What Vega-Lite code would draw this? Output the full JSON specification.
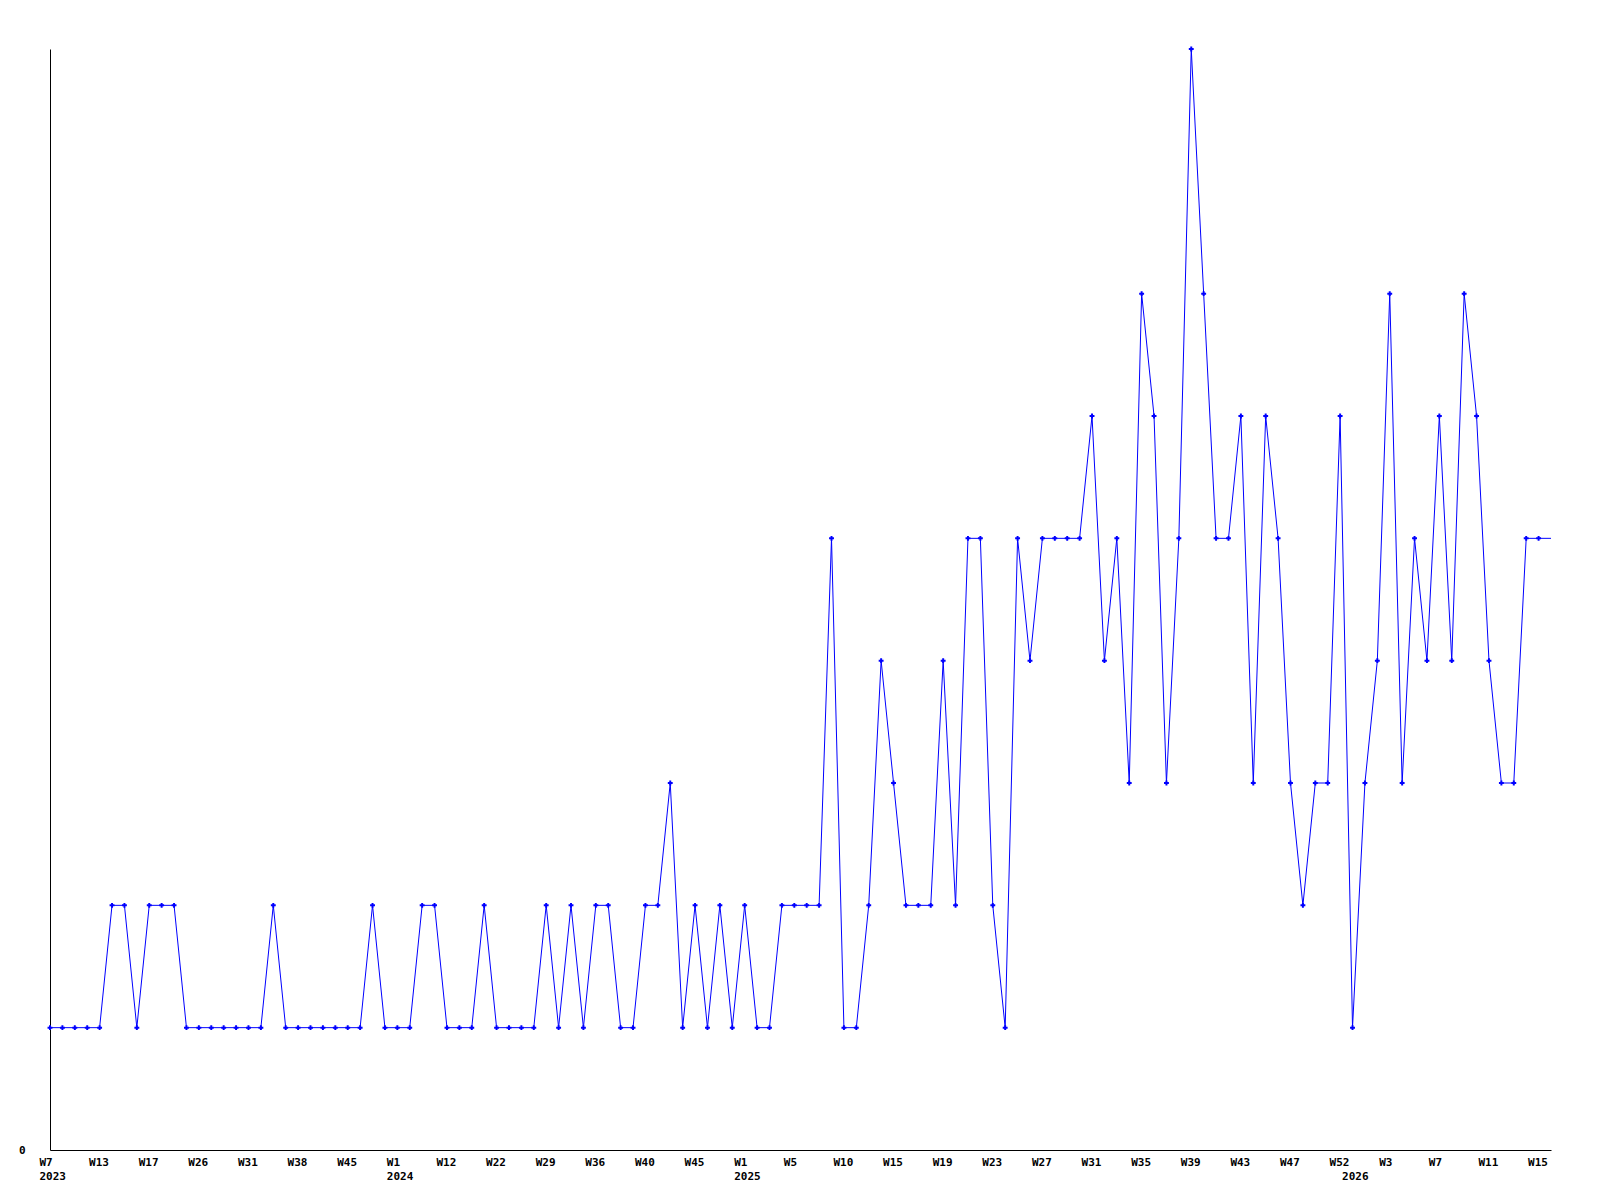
{
  "$schema": "https://vega.github.io/schema/vega-lite/v6.json",
  "width": 1501,
  "height": 1101,
  "autosize": {"type": "none"},
  "padding": {"left": 50, "top": 49, "right": 49, "bottom": 50},
  "background": "white",
  "config": {"view": {"stroke": null}},
  "data": {"values": [
    {"i":0,"key":"2023-W7","v":1},{"i":1,"key":"2023-W8","v":1},{"i":2,"key":"2023-W10","v":1},{"i":3,"key":"2023-W11","v":1},
    {"i":4,"key":"2023-W13","v":1},{"i":5,"key":"2023-W14","v":2},{"i":6,"key":"2023-W15","v":2},{"i":7,"key":"2023-W16","v":1},
    {"i":8,"key":"2023-W17","v":2},{"i":9,"key":"2023-W19","v":2},{"i":10,"key":"2023-W21","v":2},{"i":11,"key":"2023-W24","v":1},
    {"i":12,"key":"2023-W26","v":1},{"i":13,"key":"2023-W27","v":1},{"i":14,"key":"2023-W28","v":1},{"i":15,"key":"2023-W30","v":1},
    {"i":16,"key":"2023-W31","v":1},{"i":17,"key":"2023-W33","v":1},{"i":18,"key":"2023-W35","v":2},{"i":19,"key":"2023-W36","v":1},
    {"i":20,"key":"2023-W38","v":1},{"i":21,"key":"2023-W40","v":1},{"i":22,"key":"2023-W42","v":1},{"i":23,"key":"2023-W44","v":1},
    {"i":24,"key":"2023-W45","v":1},{"i":25,"key":"2023-W47","v":1},{"i":26,"key":"2023-W49","v":2},{"i":27,"key":"2023-W51","v":1},
    {"i":28,"key":"2024-W1","v":1},{"i":29,"key":"2024-W3","v":1},{"i":30,"key":"2024-W6","v":2},{"i":31,"key":"2024-W9","v":2},
    {"i":32,"key":"2024-W12","v":1},{"i":33,"key":"2024-W14","v":1},{"i":34,"key":"2024-W17","v":1},{"i":35,"key":"2024-W20","v":2},
    {"i":36,"key":"2024-W22","v":1},{"i":37,"key":"2024-W24","v":1},{"i":38,"key":"2024-W26","v":1},{"i":39,"key":"2024-W27","v":1},
    {"i":40,"key":"2024-W29","v":2},{"i":41,"key":"2024-W31","v":1},{"i":42,"key":"2024-W33","v":2},{"i":43,"key":"2024-W34","v":1},
    {"i":44,"key":"2024-W36","v":2},{"i":45,"key":"2024-W37","v":2},{"i":46,"key":"2024-W38","v":1},{"i":47,"key":"2024-W39","v":1},
    {"i":48,"key":"2024-W40","v":2},{"i":49,"key":"2024-W41","v":2},{"i":50,"key":"2024-W43","v":3},{"i":51,"key":"2024-W44","v":1},
    {"i":52,"key":"2024-W45","v":2},{"i":53,"key":"2024-W47","v":1},{"i":54,"key":"2024-W49","v":2},{"i":55,"key":"2024-W51","v":1},
    {"i":56,"key":"2025-W1","v":2},{"i":57,"key":"2025-W2","v":1},{"i":58,"key":"2025-W3","v":1},{"i":59,"key":"2025-W4","v":2},
    {"i":60,"key":"2025-W5","v":2},{"i":61,"key":"2025-W6","v":2},{"i":62,"key":"2025-W7","v":2},{"i":63,"key":"2025-W9","v":5},
    {"i":64,"key":"2025-W10","v":1},{"i":65,"key":"2025-W11","v":1},{"i":66,"key":"2025-W12","v":2},{"i":67,"key":"2025-W14","v":4},
    {"i":68,"key":"2025-W15","v":3},{"i":69,"key":"2025-W16","v":2},{"i":70,"key":"2025-W17","v":2},{"i":71,"key":"2025-W18","v":2},
    {"i":72,"key":"2025-W19","v":4},{"i":73,"key":"2025-W20","v":2},{"i":74,"key":"2025-W21","v":5},{"i":75,"key":"2025-W22","v":5},
    {"i":76,"key":"2025-W23","v":2},{"i":77,"key":"2025-W24","v":1},{"i":78,"key":"2025-W25","v":5},{"i":79,"key":"2025-W26","v":4},
    {"i":80,"key":"2025-W27","v":5},{"i":81,"key":"2025-W28","v":5},{"i":82,"key":"2025-W29","v":5},{"i":83,"key":"2025-W30","v":5},
    {"i":84,"key":"2025-W31","v":6},{"i":85,"key":"2025-W32","v":4},{"i":86,"key":"2025-W33","v":5},{"i":87,"key":"2025-W34","v":3},
    {"i":88,"key":"2025-W35","v":7},{"i":89,"key":"2025-W36","v":6},{"i":90,"key":"2025-W37","v":3},{"i":91,"key":"2025-W38","v":5},
    {"i":92,"key":"2025-W39","v":9},{"i":93,"key":"2025-W40","v":7},{"i":94,"key":"2025-W41","v":5},{"i":95,"key":"2025-W42","v":5},
    {"i":96,"key":"2025-W43","v":6},{"i":97,"key":"2025-W44","v":3},{"i":98,"key":"2025-W45","v":6},{"i":99,"key":"2025-W46","v":5},
    {"i":100,"key":"2025-W47","v":3},{"i":101,"key":"2025-W48","v":2},{"i":102,"key":"2025-W49","v":3},{"i":103,"key":"2025-W51","v":3},
    {"i":104,"key":"2025-W52","v":6},{"i":105,"key":"2026-W0","v":1},{"i":106,"key":"2026-W1","v":3},{"i":107,"key":"2026-W2","v":4},
    {"i":108,"key":"2026-W3","v":7},{"i":109,"key":"2026-W4","v":3},{"i":110,"key":"2026-W5","v":5},{"i":111,"key":"2026-W6","v":4},
    {"i":112,"key":"2026-W7","v":6},{"i":113,"key":"2026-W8","v":4},{"i":114,"key":"2026-W9","v":7},{"i":115,"key":"2026-W10","v":6},
    {"i":116,"key":"2026-W11","v":4},{"i":117,"key":"2026-W12","v":3},{"i":118,"key":"2026-W13","v":3},{"i":119,"key":"2026-W14","v":5},
    {"i":120,"key":"2026-W15","v":5},{"i":121,"key":"2026-W16","v":5}
  ]},
  "encoding": {
    "x": {
      "field": "key", "type": "ordinal", "sort": null,
      "scale": {"type": "point", "padding": 0},
      "axis": {
        "title": null,
        "values": ["2023-W7","2023-W13","2023-W17","2023-W26","2023-W31","2023-W38","2023-W45","2024-W1","2024-W12","2024-W22","2024-W29","2024-W36","2024-W40","2024-W45","2025-W1","2025-W5","2025-W10","2025-W15","2025-W19","2025-W23","2025-W27","2025-W31","2025-W35","2025-W39","2025-W43","2025-W47","2025-W52","2026-W0","2026-W3","2026-W7","2026-W11","2026-W15"],
        "labelExpr": "datum.value == '2026-W0' ? ['', '2026'] : ((datum.value == '2023-W7' || datum.value == '2024-W1' || datum.value == '2025-W1') ? [split(datum.value, '-')[1], split(datum.value, '-')[0]] : split(datum.value, '-')[1])",
        "labelAngle": 0,
        "labelAlign": "left",
        "labelBaseline": "top",
        "labelOffset": -11,
        "labelPadding": 6,
        "labelLineHeight": 14.5,
        "labelOverlap": false,
        "labelFlush": false,
        "labelBound": false,
        "labelFont": "DejaVu Sans Mono",
        "labelFontWeight": "bold",
        "labelFontSize": 11,
        "labelColor": "black",
        "ticks": false,
        "grid": false,
        "domainColor": "black",
        "domainWidth": 1
      }
    },
    "y": {
      "field": "v", "type": "quantitative",
      "scale": {"domain": [0, 9], "nice": false, "zero": true},
      "axis": {
        "title": null,
        "values": [0],
        "ticks": false,
        "grid": false,
        "labelPadding": 25,
        "labelFont": "DejaVu Sans Mono",
        "labelFontWeight": "bold",
        "labelFontSize": 11,
        "labelColor": "black",
        "domainColor": "black",
        "domainWidth": 1
      }
    }
  },
  "layer": [
    {"mark": {"type": "line", "color": "#0000ff", "strokeWidth": 1, "interpolate": "linear"}},
    {
      "transform": [{"filter": "datum.i < 121"}],
      "mark": {"type": "point", "shape": "cross", "filled": true, "size": 24, "color": "#0000ff", "opacity": 1}
    }
  ]
}
